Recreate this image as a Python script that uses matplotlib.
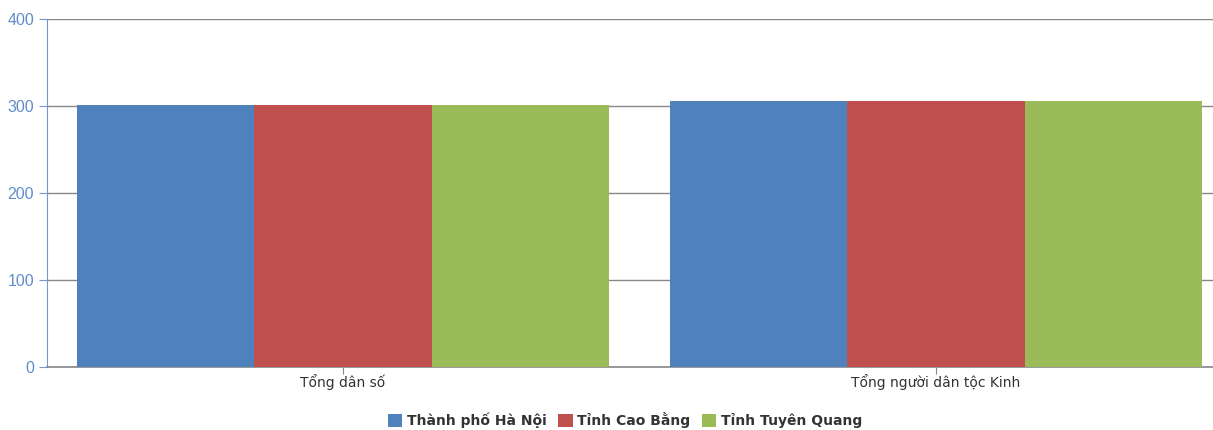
import matplotlib.pyplot as plt
import numpy as np

# dữ liệu
categories = ['Tổng dân số', 'Tổng người dân tộc Kinh']
series_names = ['Thành phố Hà Nội', 'Tỉnh Cao Bằng', 'Tỉnh Tuyên Quang']
ha_noi = [301, 306]
cao_bang = [301, 306]
tuyen_quang = [301, 306]
colors = ['#4F81BD', '#C0504D', '#9BBB59']
yticks = [0, 100, 200, 300, 400]

W, H = 1213, 430
fig = plt.figure(figsize=(W / 100, H / 100), dpi=100)
# vùng vẽ vượt ra ngoài mép phải như ảnh gốc
ax = fig.add_axes([46.5 / W, 1 - 367 / H, 1186 / W, 348 / H])

x = np.arange(len(categories))
bw = 0.2985
for i, (vals, name) in enumerate(zip([ha_noi, cao_bang, tuyen_quang], series_names)):
    ax.bar(x + (i - 1) * bw, vals, width=bw, color=colors[i], label=name, zorder=3)

ax.set_xlim(-0.5, 1.5)
ax.set_ylim(0, 400)
ax.set_yticks(yticks)
ax.set_xticks(x)
ax.set_xticklabels(categories, fontsize=10, color='#333333', family='DejaVu Sans')
ax.set_yticklabels([str(v) for v in yticks], fontsize=11.5, color='#5F8DCB', family='Liberation Sans')

ax.grid(axis='y', color='#888888', linewidth=1, zorder=1)
for s in ['top', 'right']:
    ax.spines[s].set_visible(False)
ax.spines['left'].set_color('#6F98D0')
ax.spines['bottom'].set_color('#888888')
ax.spines['bottom'].set_linewidth(1.2)
ax.tick_params(axis='y', length=6, color='#6F98D0', pad=3)
ax.tick_params(axis='x', length=5, color='#888888', pad=0)

fig.legend(loc='center', bbox_to_anchor=(625 / W, 1 - 420 / H), ncol=3, frameon=False,
           prop={'family': 'DejaVu Sans', 'weight': 'bold', 'size': 10},
           labelcolor='#333333',
           handlelength=1.05, handleheight=1.05, handletextpad=0.35, columnspacing=0.8)

fig.savefig('out.png', dpi=100)
